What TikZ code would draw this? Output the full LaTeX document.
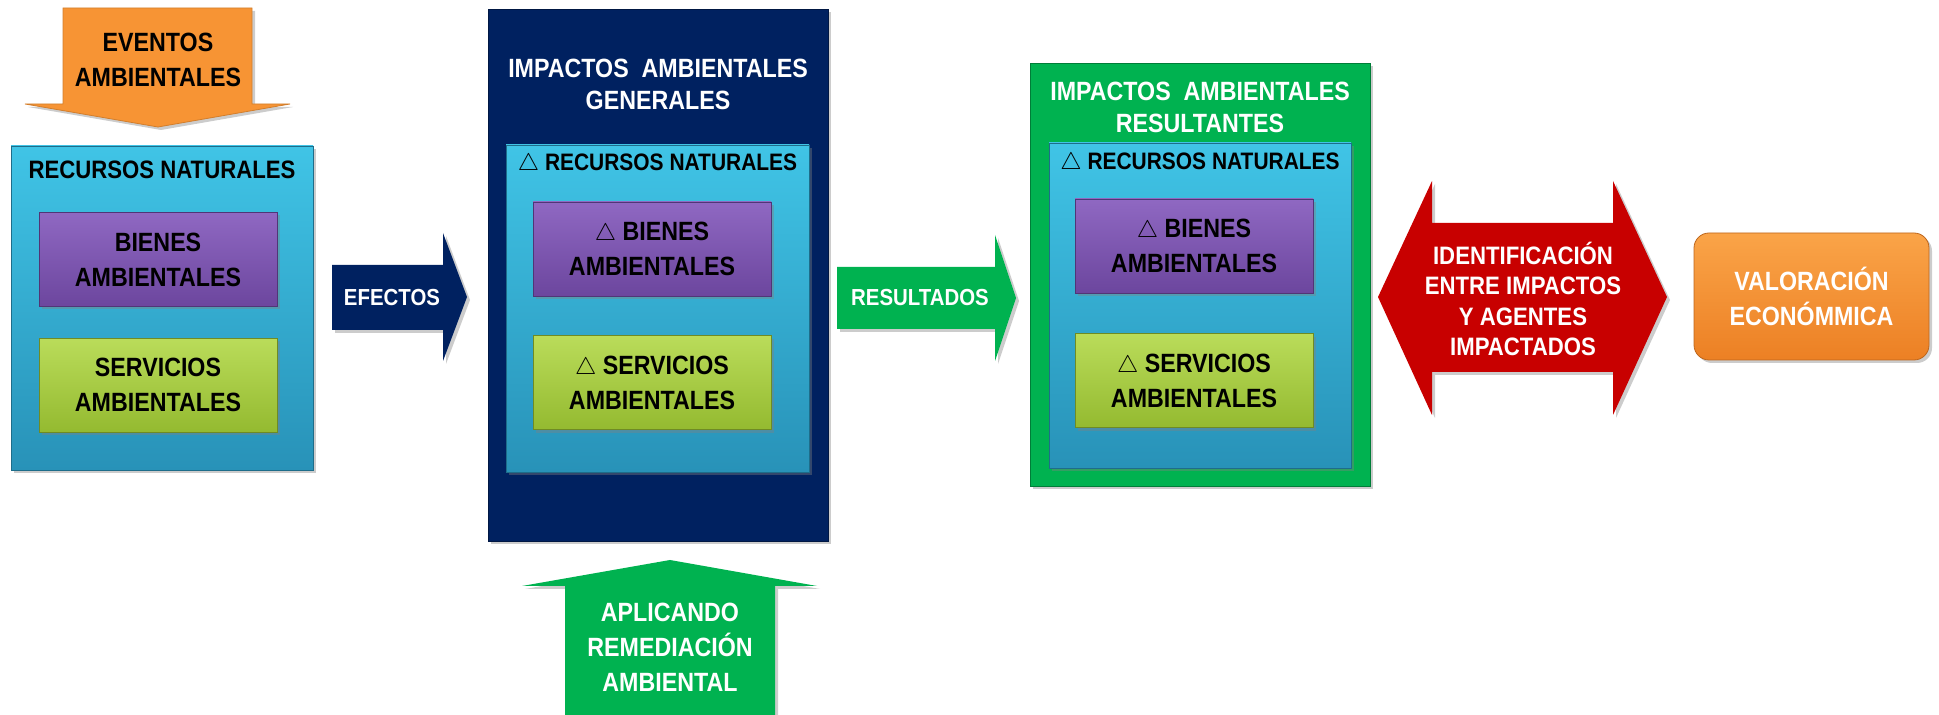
\documentclass[tikz,border=0pt]{standalone}
\usepackage{fontspec}
\newfontfamily\diagfont{Liberation Sans}[FakeStretch=0.88]
\usetikzlibrary{positioning, shadows}

\definecolor{cianarriba}{RGB}{64,196,230}
\definecolor{cianabajo}{RGB}{40,146,184}
\definecolor{moradoarriba}{RGB}{143,104,194}
\definecolor{moradoabajo}{RGB}{108,70,158}
\definecolor{limaarriba}{RGB}{186,220,90}
\definecolor{limaabajo}{RGB}{148,186,48}
\definecolor{azulmarino}{RGB}{0,33,96}
\definecolor{verde}{RGB}{0,178,80}
\definecolor{rojo}{RGB}{200,0,0}
\definecolor{naranja}{RGB}{247,148,52}
\definecolor{naranjaarriba}{RGB}{250,164,72}
\definecolor{naranjaabajo}{RGB}{236,128,36}

\newcommand\cajatxt{\diagfont\bfseries\fontsize{13.2}{17.5}\selectfont}
\newcommand\titulotxt{\diagfont\bfseries\fontsize{13.2}{16}\selectfont}
\newcommand\rectxt{\diagfont\bfseries\fontsize{12.6}{14}\selectfont}
\newcommand\deltatxt{\diagfont\bfseries\fontsize{11.9}{14}\selectfont}
\newcommand\flechatxt{\diagfont\bfseries\fontsize{11.6}{14}\selectfont}
\newcommand\rojotxt{\diagfont\bfseries\fontsize{12.6}{15.3}\selectfont}

\tikzset{
  every node/.style={align=center, inner sep=0pt},
  sombra/.style={drop shadow={shadow xshift=1.5pt, shadow yshift=-1.5pt, opacity=0.4}},
  recurso/.style={
    rectangle, top color=cianarriba, bottom color=cianabajo,
    draw=cianabajo!75!black, line width=0.4pt, sombra,
    minimum width=151pt, minimum height=162pt
  },
  bien/.style={
    rectangle, top color=moradoarriba, bottom color=moradoabajo,
    draw=moradoabajo!75!black, line width=0.4pt, sombra,
    minimum width=119pt, minimum height=47pt, font=\cajatxt
  },
  servicio/.style={bien, top color=limaarriba, bottom color=limaabajo, draw=limaabajo!75!black},
  marco/.style={rectangle, line width=0.4pt, sombra, minimum width=170pt},
  flecha/.style={line width=0.4pt, sombra},
}

\begin{document}
\begin{tikzpicture}[x=0.5pt, y=-0.5pt]
  \useasboundingbox (0,0) rectangle (1939,715);

  % recursos naturales
  \node[recurso] (rn) at (162,308) {};
  \node[font=\rectxt] (rntit) at (162,170) {RECURSOS NATURALES};
  \node[bien] (bienes) at (158,259.5) {BIENES\\AMBIENTALES};
  \node[servicio, below=15.5pt of bienes] (servicios) {SERVICIOS\\AMBIENTALES};

  % impactos generales
  \node[marco, fill=azulmarino, draw=azulmarino!70!black, minimum height=266pt] (impgen) at (658,275) {};
  \node[font=\titulotxt, text=white] (impgentit) at (658,84.5) {IMPACTOS~ AMBIENTALES\\GENERALES};
  \node[recurso, minimum width=151.5pt, minimum height=163.5pt] (rngen) at (657.5,308.5) {};
  \node[font=\deltatxt] (rngentit) at (657.5,165) {$\triangle$ RECURSOS NATURALES};
  \node[bien] (biengen) at (652,249) {$\triangle$ BIENES\\AMBIENTALES};
  \node[servicio, below=19.5pt of biengen] (servgen) {$\triangle$ SERVICIOS\\AMBIENTALES};

  % impactos resultantes
  \node[marco, fill=verde, draw=verde!70!black, minimum height=211.5pt] (impres) at (1200,274.5) {};
  \node[font=\titulotxt, text=white] (imprestit) at (1200,107) {IMPACTOS~ AMBIENTALES\\RESULTANTES};
  \node[recurso, minimum height=162.5pt] (rnres) at (1200,305.5) {};
  \node[font=\deltatxt] (rnrestit) at (1200,164) {$\triangle$ RECURSOS NATURALES};
  \node[bien] (bienres) at (1194,246) {$\triangle$ BIENES\\AMBIENTALES};
  \node[servicio, below=20pt of bienres] (servres) {$\triangle$ SERVICIOS\\AMBIENTALES};

  % valoracion
  \node[rectangle, rounded corners=7.5pt, top color=naranjaarriba, bottom color=naranjaabajo,
        draw=naranjaabajo!80!black, line width=0.4pt, sombra,
        minimum width=117.5pt, minimum height=63.5pt, font=\cajatxt, text=white] (valor) at (1811.5,296.5) {VALORACIÓN\\ECONÓMMICA};

  % flechas
  \path[flecha, fill=naranja, draw=naranja!85!black] (63,8) -- (252,8) -- (252,104) -- (290,104) -- (158,127) -- (25,104) -- (63,104) -- cycle;
  \node[font=\cajatxt] (eventos) at (158,60) {EVENTOS\\AMBIENTALES};

  \path[flecha, fill=azulmarino] (332,265) -- (443,265) -- (443,233) -- (467,297) -- (443,361) -- (443,330) -- (332,330) -- cycle;
  \node[font=\flechatxt, text=white] (efectos) at (392,298) {EFECTOS};

  \path[flecha, fill=verde] (837,267) -- (995,267) -- (995,235) -- (1016,298) -- (995,361) -- (995,329) -- (837,329) -- cycle;
  \node[font=\flechatxt, text=white] (resultados) at (920,298) {RESULTADOS};

  \path[flecha, fill=verde] (565,716) -- (565,586) -- (522,586) -- (670,560) -- (817,586) -- (775,586) -- (775,716) -- cycle;
  \node[font=\cajatxt, text=white] (aplicando) at (670,647) {APLICANDO\\REMEDIACIÓN\\AMBIENTAL};

  \path[flecha, fill=rojo] (1378,297) -- (1432,181) -- (1432,223) -- (1613,223) -- (1613,181) -- (1667,297)
    -- (1613,415) -- (1613,372) -- (1432,372) -- (1432,415) -- cycle;
  \node[font=\rojotxt, text=white] (identif) at (1523,299) {IDENTIFICACIÓN\\ENTRE IMPACTOS\\Y AGENTES\\IMPACTADOS};
\end{tikzpicture}
\end{document}
